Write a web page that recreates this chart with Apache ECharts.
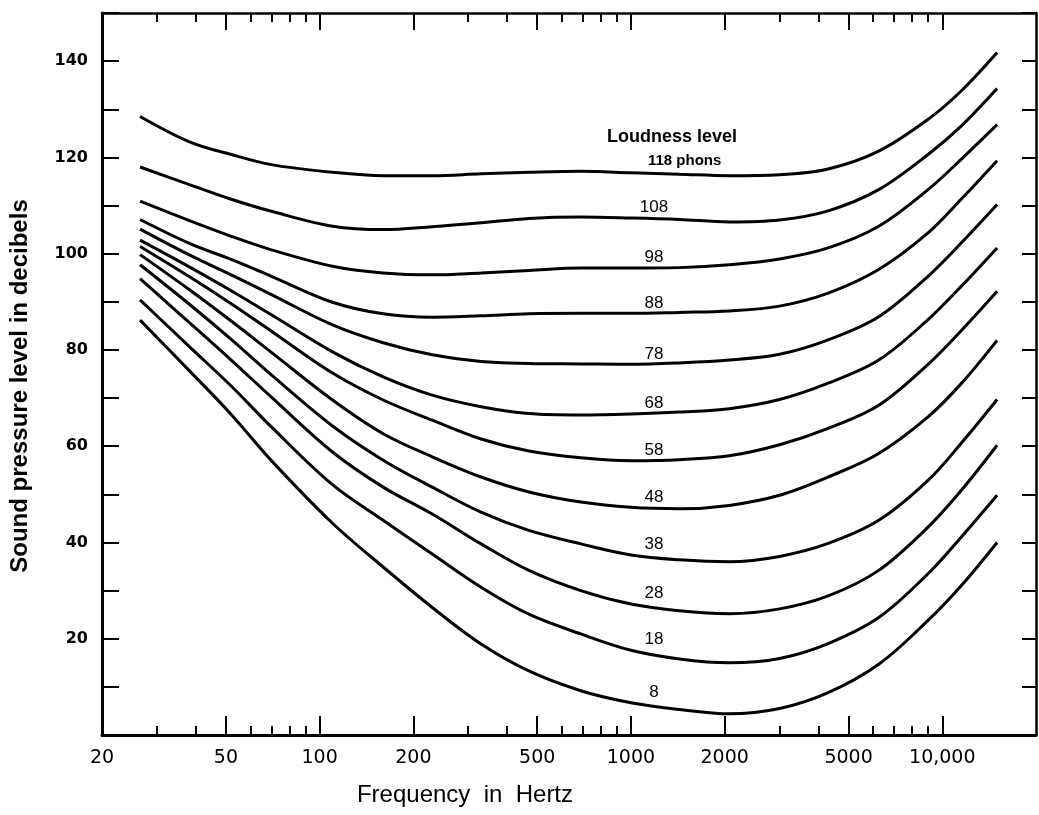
<!DOCTYPE html>
<html>
<head>
<meta charset="utf-8">
<title>Equal loudness contours</title>
<script src="https://cdn.jsdelivr.net/npm/echarts@6.0.0/dist/echarts.min.js"></script>
<style>
  html, body { margin: 0; padding: 0; background: #fff; }
  #chart { width: 1039px; height: 815px; }
</style>
</head>
<body>
<div id="chart"></div>
<script>
// frequencies (Hz) where the contours were read off (roughly even steps on the log scale)
const freqs = [26.5, 38, 52, 70, 110, 160, 230, 330, 470, 690, 1000, 1430, 2070, 3000, 4300, 6250, 9000, 11500, 15000];

// sound pressure level (dB) along each loudness contour
const phon118 = [128.5, 123.3, 120.6, 118.5, 116.9, 116.2, 116.2, 116.6, 116.9, 117.1, 116.8, 116.5, 116.2, 116.4, 117.6, 121.3, 127.9, 133.8, 141.8];
const phon108 = [118.0, 114.4, 111.3, 108.8, 105.7, 105.0, 105.6, 106.4, 107.3, 107.6, 107.4, 107.1, 106.6, 107.0, 108.9, 113.3, 120.6, 126.5, 134.3];
const phon98 = [110.9, 106.9, 103.6, 100.8, 97.4, 96.0, 95.6, 96.0, 96.5, 97.0, 97.0, 97.1, 97.7, 98.9, 101.2, 105.7, 113.3, 119.6, 126.8];
const phon88 = [107.1, 102.2, 98.8, 95.3, 89.9, 87.5, 86.8, 87.1, 87.5, 87.6, 87.6, 87.8, 88.1, 89.1, 91.8, 96.7, 104.3, 111.3, 119.3];
const phon78 = [105.1, 99.8, 95.6, 91.5, 85.2, 81.5, 79.0, 77.6, 77.2, 77.1, 77.0, 77.3, 77.9, 79.1, 82.1, 86.9, 95.3, 102.2, 110.2];
const phon68 = [102.8, 97.3, 92.3, 87.3, 79.6, 74.4, 70.6, 68.2, 66.8, 66.5, 66.7, 67.1, 67.8, 69.7, 73.1, 77.9, 86.3, 93.2, 101.2];
const phon58 = [101.5, 95.3, 89.6, 83.9, 75.2, 69.6, 65.4, 61.5, 59.0, 57.6, 57.0, 57.2, 58.0, 60.3, 63.7, 68.5, 77.0, 84.0, 92.2];
const phon48 = [99.8, 92.6, 86.0, 79.5, 69.6, 62.6, 57.8, 53.6, 50.5, 48.4, 47.3, 47.0, 47.7, 49.8, 53.6, 58.5, 66.1, 73.0, 82.0];
const phon38 = [97.7, 89.6, 82.2, 74.8, 64.2, 57.1, 51.5, 46.3, 42.5, 39.7, 37.4, 36.4, 36.0, 37.1, 39.8, 44.6, 52.9, 60.6, 69.7];
const phon28 = [94.8, 85.8, 77.9, 70.2, 58.8, 51.5, 45.9, 39.7, 34.2, 30.0, 27.2, 25.8, 25.2, 26.2, 28.9, 34.2, 43.2, 50.8, 60.2];
const phon18 = [90.4, 80.8, 72.5, 64.0, 52.0, 44.6, 37.6, 30.7, 25.1, 21.0, 17.6, 15.8, 15.0, 15.9, 19.0, 24.4, 33.5, 41.1, 49.8];
const phon8 = [86.2, 75.8, 66.6, 57.0, 44.0, 34.9, 26.5, 18.9, 13.3, 9.2, 6.7, 5.3, 4.4, 5.5, 8.8, 14.7, 23.8, 31.0, 40.0];

const curves = [phon118, phon108, phon98, phon88, phon78, phon68, phon58, phon48, phon38, phon28, phon18, phon8];
const curveNames = ['118', '108', '98', '88', '78', '68', '58', '48', '38', '28', '18', '8'];
const labelFreq = 1000; // contour numbers sit just above this point

// axis ticks and labels
const xLabelValues = [20, 50, 100, 200, 500, 1000, 2000, 5000, 10000];
const xMajorTicks = [50, 100, 200, 500, 1000, 2000, 5000, 10000];
const xMinorTicks = [30, 40, 60, 70, 80, 90, 300, 400, 600, 700, 800, 900, 3000, 4000, 6000, 7000, 8000, 9000];
const yLabelValues = [20, 40, 60, 80, 100, 120, 140];

const chart = echarts.init(document.getElementById('chart'));

function logAxis(position, ticks, tickLen, showLine, showLabel) {
  return {
    type: 'log',
    logBase: 10,
    min: 20,
    max: 20000,
    position: position,
    axisLine: { show: showLine, lineStyle: { color: '#000', width: position == 'bottom' ? 3 : 2.5 } },
    axisTick: { show: true, inside: true, length: tickLen, customValues: ticks, lineStyle: { color: '#000', width: 2 } },
    axisLabel: {
      show: showLabel,
      customValues: xLabelValues,
      margin: 14,
      color: '#000',
      fontFamily: 'DejaVu Sans',
      fontSize: 19,
      formatter: (v) => (v == 10000 ? '10,000' : String(v)),
    },
    splitLine: { show: false },
    minorTick: { show: false },
  };
}

function valueAxis(position, tickLen, showLabel) {
  return {
    type: 'value',
    min: 0,
    max: 150,
    interval: 10,
    position: position,
    axisLine: { show: true, lineStyle: { color: '#000', width: position == 'left' ? 3 : 2.5 } },
    axisTick: { show: true, inside: true, length: tickLen, lineStyle: { color: '#000', width: 2 } },
    axisLabel: {
      show: showLabel,
      margin: 14,
      color: '#000',
      fontFamily: 'DejaVu Sans',
      fontWeight: 'bold',
      fontSize: 16,
      formatter: (v) => (yLabelValues.includes(v) ? String(v) : ''),
    },
    splitLine: { show: false },
  };
}

const xBottom = logAxis('bottom', xMajorTicks, 19, true, true);
xBottom.name = 'Frequency  in  Hertz';
xBottom.nameLocation = 'middle';
xBottom.nameGap = 48;
xBottom.nameTextStyle = { color: '#000', fontFamily: 'Liberation Sans', fontSize: 24, padding: [0, 208, 0, 0] };

const yLeft = valueAxis('left', 17, true);
yLeft.name = 'Sound pressure level in decibels';
yLeft.nameLocation = 'middle';
yLeft.nameGap = 70;
yLeft.nameTextStyle = {
  color: '#000',
  fontFamily: 'Liberation Sans',
  fontWeight: 'bold',
  fontSize: 24,
  padding: [0, 24, 0, 0],
};

const series = curves.map((vals, k) => ({
  type: 'line',
  name: curveNames[k],
  xAxisIndex: 0,
  yAxisIndex: 0,
  smooth: 0.35,
  symbol: 'circle',
  symbolSize: 0,
  showSymbol: true,
  lineStyle: { color: '#000', width: 3 },
  itemStyle: { color: '#000' },
  label: { show: false },
  data: freqs.map((f, i) => {
    if (f != labelFreq) return [f, vals[i]];
    // contour number
    let label = {
      show: true,
      position: 'top',
      distance: 4,
      offset: [23, 2],
      color: '#000',
      fontFamily: 'Liberation Sans',
      fontSize: 17,
      formatter: curveNames[k],
    };
    if (k == 0) {
      label = {
        show: true,
        position: 'top',
        distance: 4,
        align: 'left',
        offset: [-24, 2],
        color: '#000',
        fontFamily: 'Liberation Sans',
        formatter: '{a|Loudness level}\n{b|' + curveNames[k] + ' phons}',
        rich: {
          a: { fontSize: 18, fontWeight: 'bold', lineHeight: 28, color: '#000', fontFamily: 'Liberation Sans' },
          b: { fontSize: 15, fontWeight: 'bold', lineHeight: 20, color: '#000', fontFamily: 'Liberation Sans', padding: [0, 0, 0, 41] },
        },
      };
    }
    return { value: [f, vals[i]], label: label };
  }),
}));

const option = {
  backgroundColor: '#fff',
  animation: false,
  grid: { left: 102, right: 3, top: 13, bottom: 80 },
  xAxis: [
    xBottom,
    logAxis('bottom', xMinorTicks, 9, false, false),
    logAxis('top', xMajorTicks, 17, true, false),
    logAxis('top', xMinorTicks, 9, false, false),
  ],
  yAxis: [yLeft, valueAxis('right', 14, false)],
  series: series,
};

chart.setOption(option);
</script>
</body>
</html>
